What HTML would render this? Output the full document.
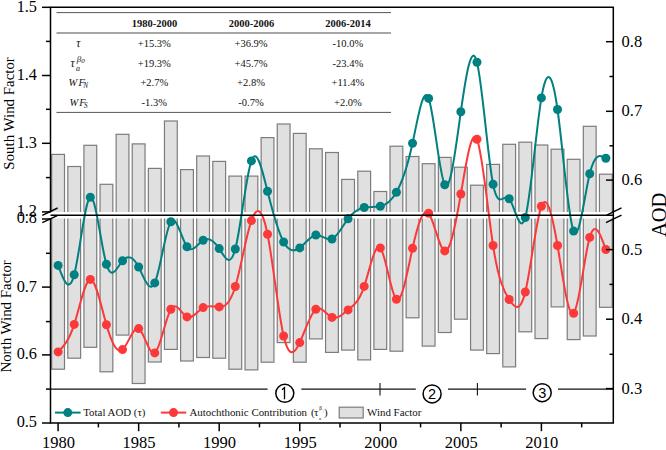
<!DOCTYPE html><html><head><meta charset="utf-8"><style>html,body{margin:0;padding:0;background:#fff;}svg{display:block;font-family:"Liberation Serif",serif;}</style></head><body><svg width="666" height="450" viewBox="0 0 666 450"><rect width="666" height="450" fill="#fff"/><defs><clipPath id="cu"><rect x="51" y="7" width="562" height="205"/></clipPath><clipPath id="cl"><rect x="51" y="218.6" width="562" height="204"/></clipPath></defs><g clip-path="url(#cu)" fill="#e0e0e0" stroke="#7c7c7c" stroke-width="1.2"><rect x="51.70" y="154.40" width="12.8" height="75.60"/><rect x="67.81" y="166.50" width="12.8" height="63.50"/><rect x="83.92" y="145.30" width="12.8" height="84.70"/><rect x="100.03" y="184.30" width="12.8" height="45.70"/><rect x="116.14" y="134.30" width="12.8" height="95.70"/><rect x="132.25" y="143.90" width="12.8" height="86.10"/><rect x="148.36" y="168.40" width="12.8" height="61.60"/><rect x="164.47" y="121.00" width="12.8" height="109.00"/><rect x="180.58" y="169.60" width="12.8" height="60.40"/><rect x="196.69" y="156.00" width="12.8" height="74.00"/><rect x="212.80" y="161.40" width="12.8" height="68.60"/><rect x="228.91" y="176.10" width="12.8" height="53.90"/><rect x="245.02" y="176.10" width="12.8" height="53.90"/><rect x="261.13" y="137.60" width="12.8" height="92.40"/><rect x="277.24" y="124.00" width="12.8" height="106.00"/><rect x="293.35" y="133.40" width="12.8" height="96.60"/><rect x="309.46" y="148.80" width="12.8" height="81.20"/><rect x="325.57" y="152.50" width="12.8" height="77.50"/><rect x="341.68" y="179.40" width="12.8" height="50.60"/><rect x="357.79" y="171.20" width="12.8" height="58.80"/><rect x="373.90" y="191.50" width="12.8" height="38.50"/><rect x="390.01" y="146.20" width="12.8" height="83.80"/><rect x="406.12" y="156.50" width="12.8" height="73.50"/><rect x="422.23" y="163.70" width="12.8" height="66.30"/><rect x="438.34" y="157.40" width="12.8" height="72.60"/><rect x="454.45" y="167.20" width="12.8" height="62.80"/><rect x="470.56" y="185.20" width="12.8" height="44.80"/><rect x="486.67" y="164.40" width="12.8" height="65.60"/><rect x="502.78" y="144.30" width="12.8" height="85.70"/><rect x="518.89" y="142.20" width="12.8" height="87.80"/><rect x="535.00" y="145.00" width="12.8" height="85.00"/><rect x="551.11" y="149.20" width="12.8" height="80.80"/><rect x="567.22" y="159.30" width="12.8" height="70.70"/><rect x="583.33" y="126.30" width="12.8" height="103.70"/><rect x="599.44" y="174.20" width="12.8" height="55.80"/></g><g clip-path="url(#cl)" fill="#e0e0e0" stroke="#7c7c7c" stroke-width="1.2"><rect x="51.70" y="200" width="12.8" height="169.20"/><rect x="67.81" y="200" width="12.8" height="158.20"/><rect x="83.92" y="200" width="12.8" height="147.30"/><rect x="100.03" y="200" width="12.8" height="171.80"/><rect x="116.14" y="200" width="12.8" height="135.10"/><rect x="132.25" y="200" width="12.8" height="183.50"/><rect x="148.36" y="200" width="12.8" height="162.00"/><rect x="164.47" y="200" width="12.8" height="149.40"/><rect x="180.58" y="200" width="12.8" height="161.00"/><rect x="196.69" y="200" width="12.8" height="157.50"/><rect x="212.80" y="200" width="12.8" height="158.20"/><rect x="228.91" y="200" width="12.8" height="169.20"/><rect x="245.02" y="200" width="12.8" height="169.90"/><rect x="261.13" y="200" width="12.8" height="162.20"/><rect x="277.24" y="200" width="12.8" height="142.60"/><rect x="293.35" y="200" width="12.8" height="162.20"/><rect x="309.46" y="200" width="12.8" height="138.90"/><rect x="325.57" y="200" width="12.8" height="152.40"/><rect x="341.68" y="200" width="12.8" height="150.10"/><rect x="357.79" y="200" width="12.8" height="159.90"/><rect x="373.90" y="200" width="12.8" height="149.40"/><rect x="390.01" y="200" width="12.8" height="151.20"/><rect x="406.12" y="200" width="12.8" height="117.80"/><rect x="422.23" y="200" width="12.8" height="146.10"/><rect x="438.34" y="200" width="12.8" height="132.50"/><rect x="454.45" y="200" width="12.8" height="119.20"/><rect x="470.56" y="200" width="12.8" height="150.10"/><rect x="486.67" y="200" width="12.8" height="153.60"/><rect x="502.78" y="200" width="12.8" height="166.90"/><rect x="518.89" y="200" width="12.8" height="131.80"/><rect x="535.00" y="200" width="12.8" height="138.60"/><rect x="551.11" y="200" width="12.8" height="106.90"/><rect x="567.22" y="200" width="12.8" height="139.60"/><rect x="583.33" y="200" width="12.8" height="136.00"/><rect x="599.44" y="200" width="12.8" height="107.30"/></g><line x1="56.5" y1="12.6" x2="391" y2="12.6" stroke="#555" stroke-width="1"/><line x1="56.5" y1="33" x2="391" y2="33" stroke="#888" stroke-width="1.4"/><line x1="56.5" y1="112.4" x2="391" y2="112.4" stroke="#555" stroke-width="1"/><path d="M58.10,265.40C63.47,280.16 68.84,294.93 74.21,274.70C79.58,254.47 84.95,199.26 90.32,197.20C95.69,195.14 101.06,246.23 106.43,264.20C111.80,282.17 117.17,267.02 122.54,260.70C127.91,254.38 133.28,256.91 138.65,267.00C144.02,277.09 149.39,294.76 154.76,282.90C160.13,271.04 165.50,229.65 170.87,221.70C176.24,213.75 181.61,239.23 186.98,246.70C192.35,254.17 197.72,243.62 203.09,240.20C208.46,236.78 213.83,240.48 219.20,248.60C224.57,256.72 229.94,269.27 235.31,249.00C240.68,228.73 246.05,175.64 251.42,160.90C256.79,146.16 262.16,169.79 267.53,191.30C272.90,212.81 278.27,232.22 283.64,242.00C289.01,251.78 294.38,251.92 299.75,247.90C305.12,243.88 310.49,235.69 315.86,235.00C321.23,234.31 326.60,241.13 331.97,239.00C337.34,236.87 342.71,225.79 348.08,218.70C353.45,211.61 358.82,208.51 364.19,207.50C369.56,206.49 374.93,207.55 380.30,206.30C385.67,205.05 391.04,201.47 396.41,192.20C401.78,182.93 407.15,167.98 412.52,143.30C417.89,118.62 423.26,84.21 428.63,98.40C434.00,112.59 439.37,175.38 444.74,184.70C450.11,194.02 455.48,149.87 460.85,111.70C466.22,73.53 471.59,41.35 476.96,62.20C482.33,83.05 487.70,156.92 493.07,184.30C498.44,211.68 503.81,192.55 509.18,198.70C514.55,204.85 519.92,236.27 525.29,217.50C530.66,198.73 536.03,129.77 541.40,97.90C546.77,66.03 552.14,71.23 557.51,109.50C562.88,147.77 568.25,219.09 573.62,231.10C578.99,243.11 584.36,195.82 589.73,173.80C595.10,151.78 600.47,155.04 605.84,158.30" fill="none" stroke="#008080" stroke-width="2"/><path d="M58.10,351.90C63.47,346.48 68.84,341.06 74.21,324.40C79.58,307.74 84.95,279.83 90.32,279.40C95.69,278.97 101.06,306.04 106.43,324.80C111.80,343.56 117.17,354.03 122.54,349.60C127.91,345.17 133.28,325.83 138.65,328.60C144.02,331.37 149.39,356.24 154.76,352.90C160.13,349.56 165.50,318.01 170.87,309.20C176.24,300.39 181.61,314.31 186.98,316.90C192.35,319.49 197.72,310.73 203.09,307.60C208.46,304.47 213.83,306.96 219.20,306.90C224.57,306.84 229.94,304.23 235.31,286.50C240.68,268.77 246.05,235.94 251.42,220.60C256.79,205.26 262.16,207.42 267.53,234.30C272.90,261.18 278.27,312.77 283.64,336.00C289.01,359.23 294.38,354.11 299.75,342.60C305.12,331.09 310.49,313.19 315.86,309.20C321.23,305.21 326.60,315.15 331.97,317.40C337.34,319.65 342.71,314.23 348.08,309.90C353.45,305.57 358.82,302.33 364.19,286.40C369.56,270.47 374.93,241.86 380.30,247.90C385.67,253.94 391.04,294.65 396.41,299.30C401.78,303.95 407.15,272.55 412.52,248.30C417.89,224.05 423.26,206.93 428.63,213.30C434.00,219.67 439.37,249.51 444.74,250.90C450.11,252.29 455.48,225.23 460.85,194.00C466.22,162.77 471.59,127.36 476.96,139.30C482.33,151.24 487.70,210.52 493.07,245.50C498.44,280.48 503.81,291.15 509.18,299.50C514.55,307.85 519.92,313.88 525.29,292.00C530.66,270.12 536.03,220.35 541.40,206.30C546.77,192.25 552.14,213.93 557.51,245.50C562.88,277.07 568.25,318.51 573.62,313.20C578.99,307.89 584.36,255.81 589.73,237.40C595.10,218.99 600.47,234.24 605.84,249.50" fill="none" stroke="#fd3838" stroke-width="2"/><circle cx="58.10" cy="265.40" r="4.5" fill="#008080"/><circle cx="74.21" cy="274.70" r="4.5" fill="#008080"/><circle cx="90.32" cy="197.20" r="4.5" fill="#008080"/><circle cx="106.43" cy="264.20" r="4.5" fill="#008080"/><circle cx="122.54" cy="260.70" r="4.5" fill="#008080"/><circle cx="138.65" cy="267.00" r="4.5" fill="#008080"/><circle cx="154.76" cy="282.90" r="4.5" fill="#008080"/><circle cx="170.87" cy="221.70" r="4.5" fill="#008080"/><circle cx="186.98" cy="246.70" r="4.5" fill="#008080"/><circle cx="203.09" cy="240.20" r="4.5" fill="#008080"/><circle cx="219.20" cy="248.60" r="4.5" fill="#008080"/><circle cx="235.31" cy="249.00" r="4.5" fill="#008080"/><circle cx="251.42" cy="160.90" r="4.5" fill="#008080"/><circle cx="267.53" cy="191.30" r="4.5" fill="#008080"/><circle cx="283.64" cy="242.00" r="4.5" fill="#008080"/><circle cx="299.75" cy="247.90" r="4.5" fill="#008080"/><circle cx="315.86" cy="235.00" r="4.5" fill="#008080"/><circle cx="331.97" cy="239.00" r="4.5" fill="#008080"/><circle cx="348.08" cy="218.70" r="4.5" fill="#008080"/><circle cx="364.19" cy="207.50" r="4.5" fill="#008080"/><circle cx="380.30" cy="206.30" r="4.5" fill="#008080"/><circle cx="396.41" cy="192.20" r="4.5" fill="#008080"/><circle cx="412.52" cy="143.30" r="4.5" fill="#008080"/><circle cx="428.63" cy="98.40" r="4.5" fill="#008080"/><circle cx="444.74" cy="184.70" r="4.5" fill="#008080"/><circle cx="460.85" cy="111.70" r="4.5" fill="#008080"/><circle cx="476.96" cy="62.20" r="4.5" fill="#008080"/><circle cx="493.07" cy="184.30" r="4.5" fill="#008080"/><circle cx="509.18" cy="198.70" r="4.5" fill="#008080"/><circle cx="525.29" cy="217.50" r="4.5" fill="#008080"/><circle cx="541.40" cy="97.90" r="4.5" fill="#008080"/><circle cx="557.51" cy="109.50" r="4.5" fill="#008080"/><circle cx="573.62" cy="231.10" r="4.5" fill="#008080"/><circle cx="589.73" cy="173.80" r="4.5" fill="#008080"/><circle cx="605.84" cy="158.30" r="4.5" fill="#008080"/><circle cx="58.10" cy="351.90" r="4.5" fill="#fd3838"/><circle cx="74.21" cy="324.40" r="4.5" fill="#fd3838"/><circle cx="90.32" cy="279.40" r="4.5" fill="#fd3838"/><circle cx="106.43" cy="324.80" r="4.5" fill="#fd3838"/><circle cx="122.54" cy="349.60" r="4.5" fill="#fd3838"/><circle cx="138.65" cy="328.60" r="4.5" fill="#fd3838"/><circle cx="154.76" cy="352.90" r="4.5" fill="#fd3838"/><circle cx="170.87" cy="309.20" r="4.5" fill="#fd3838"/><circle cx="186.98" cy="316.90" r="4.5" fill="#fd3838"/><circle cx="203.09" cy="307.60" r="4.5" fill="#fd3838"/><circle cx="219.20" cy="306.90" r="4.5" fill="#fd3838"/><circle cx="235.31" cy="286.50" r="4.5" fill="#fd3838"/><circle cx="251.42" cy="220.60" r="4.5" fill="#fd3838"/><circle cx="267.53" cy="234.30" r="4.5" fill="#fd3838"/><circle cx="283.64" cy="336.00" r="4.5" fill="#fd3838"/><circle cx="299.75" cy="342.60" r="4.5" fill="#fd3838"/><circle cx="315.86" cy="309.20" r="4.5" fill="#fd3838"/><circle cx="331.97" cy="317.40" r="4.5" fill="#fd3838"/><circle cx="348.08" cy="309.90" r="4.5" fill="#fd3838"/><circle cx="364.19" cy="286.40" r="4.5" fill="#fd3838"/><circle cx="380.30" cy="247.90" r="4.5" fill="#fd3838"/><circle cx="396.41" cy="299.30" r="4.5" fill="#fd3838"/><circle cx="412.52" cy="248.30" r="4.5" fill="#fd3838"/><circle cx="428.63" cy="213.30" r="4.5" fill="#fd3838"/><circle cx="444.74" cy="250.90" r="4.5" fill="#fd3838"/><circle cx="460.85" cy="194.00" r="4.5" fill="#fd3838"/><circle cx="476.96" cy="139.30" r="4.5" fill="#fd3838"/><circle cx="493.07" cy="245.50" r="4.5" fill="#fd3838"/><circle cx="509.18" cy="299.50" r="4.5" fill="#fd3838"/><circle cx="525.29" cy="292.00" r="4.5" fill="#fd3838"/><circle cx="541.40" cy="206.30" r="4.5" fill="#fd3838"/><circle cx="557.51" cy="245.50" r="4.5" fill="#fd3838"/><circle cx="573.62" cy="313.20" r="4.5" fill="#fd3838"/><circle cx="589.73" cy="237.40" r="4.5" fill="#fd3838"/><circle cx="605.84" cy="249.50" r="4.5" fill="#fd3838"/><line x1="50.5" y1="215.2" x2="613" y2="215.2" stroke="#000" stroke-width="1.4"/><line x1="50.5" y1="389.1" x2="267.6" y2="389.1" stroke="#111" stroke-width="1.1"/><line x1="301.3" y1="389.1" x2="415.8" y2="389.1" stroke="#111" stroke-width="1.1"/><line x1="448" y1="389.1" x2="526.1" y2="389.1" stroke="#111" stroke-width="1.1"/><line x1="558" y1="389.1" x2="613" y2="389.1" stroke="#111" stroke-width="1.1"/><line x1="380.0" y1="383" x2="380.0" y2="395.5" stroke="#111" stroke-width="1.1"/><line x1="477.4" y1="383" x2="477.4" y2="395.5" stroke="#111" stroke-width="1.1"/><circle cx="284.8" cy="393.3" r="9.0" fill="none" stroke="#000" stroke-width="1.5"/><path d="M282.00,389.80 L284.50,387.70 V399.30" fill="none" stroke="#000" stroke-width="1.3"/><circle cx="432.1" cy="393.9" r="9.0" fill="none" stroke="#000" stroke-width="1.5"/><text x="432.1" y="399.09999999999997" font-family="Liberation Sans" font-size="14.5" text-anchor="middle" fill="#000">2</text><circle cx="542.2" cy="392.7" r="9.0" fill="none" stroke="#000" stroke-width="1.5"/><text x="542.2" y="397.9" font-family="Liberation Sans" font-size="14.5" text-anchor="middle" fill="#000">3</text><path d="M50.5,211.6 V7.3 H613.3 V423 H50.5 V218.9" fill="none" stroke="#000" stroke-width="1.5" stroke-linejoin="miter" stroke-linecap="square"/><line x1="42" y1="7.3" x2="50.5" y2="7.3" stroke="#000" stroke-width="1.5"/><line x1="42" y1="75.5" x2="50.5" y2="75.5" stroke="#000" stroke-width="1.5"/><line x1="42" y1="143.3" x2="50.5" y2="143.3" stroke="#000" stroke-width="1.5"/><line x1="42" y1="211.9" x2="50.5" y2="211.9" stroke="#000" stroke-width="1.5"/><line x1="42" y1="219" x2="50.5" y2="219" stroke="#000" stroke-width="1.5"/><line x1="42" y1="287.1" x2="50.5" y2="287.1" stroke="#000" stroke-width="1.5"/><line x1="42" y1="354.9" x2="50.5" y2="354.9" stroke="#000" stroke-width="1.5"/><line x1="42" y1="423" x2="50.5" y2="423" stroke="#000" stroke-width="1.5"/><line x1="46" y1="41.4" x2="50.5" y2="41.4" stroke="#000" stroke-width="1.5"/><line x1="46" y1="109.3" x2="50.5" y2="109.3" stroke="#000" stroke-width="1.5"/><line x1="46" y1="177.6" x2="50.5" y2="177.6" stroke="#000" stroke-width="1.5"/><line x1="46" y1="253.3" x2="50.5" y2="253.3" stroke="#000" stroke-width="1.5"/><line x1="46" y1="321.6" x2="50.5" y2="321.6" stroke="#000" stroke-width="1.5"/><line x1="46" y1="389.1" x2="50.5" y2="389.1" stroke="#000" stroke-width="1.5"/><line x1="606" y1="41.7" x2="613.3" y2="41.7" stroke="#000" stroke-width="1.5"/><line x1="606" y1="111.3" x2="613.3" y2="111.3" stroke="#000" stroke-width="1.5"/><line x1="606" y1="180.1" x2="613.3" y2="180.1" stroke="#000" stroke-width="1.5"/><line x1="606" y1="249.6" x2="613.3" y2="249.6" stroke="#000" stroke-width="1.5"/><line x1="606" y1="319.2" x2="613.3" y2="319.2" stroke="#000" stroke-width="1.5"/><line x1="606" y1="388.6" x2="613.3" y2="388.6" stroke="#000" stroke-width="1.5"/><line x1="609.5" y1="76.5" x2="613.3" y2="76.5" stroke="#000" stroke-width="1.5"/><line x1="609.5" y1="145.8" x2="613.3" y2="145.8" stroke="#000" stroke-width="1.5"/><line x1="609.5" y1="284.4" x2="613.3" y2="284.4" stroke="#000" stroke-width="1.5"/><line x1="609.5" y1="354.3" x2="613.3" y2="354.3" stroke="#000" stroke-width="1.5"/><line x1="58.10" y1="423" x2="58.10" y2="431.2" stroke="#000" stroke-width="1.5"/><line x1="138.65" y1="423" x2="138.65" y2="431.2" stroke="#000" stroke-width="1.5"/><line x1="219.20" y1="423" x2="219.20" y2="431.2" stroke="#000" stroke-width="1.5"/><line x1="299.75" y1="423" x2="299.75" y2="431.2" stroke="#000" stroke-width="1.5"/><line x1="380.30" y1="423" x2="380.30" y2="431.2" stroke="#000" stroke-width="1.5"/><line x1="460.85" y1="423" x2="460.85" y2="431.2" stroke="#000" stroke-width="1.5"/><line x1="541.40" y1="423" x2="541.40" y2="431.2" stroke="#000" stroke-width="1.5"/><line x1="98.38" y1="423" x2="98.38" y2="427.4" stroke="#000" stroke-width="1.5"/><line x1="178.92" y1="423" x2="178.92" y2="427.4" stroke="#000" stroke-width="1.5"/><line x1="259.48" y1="423" x2="259.48" y2="427.4" stroke="#000" stroke-width="1.5"/><line x1="340.03" y1="423" x2="340.03" y2="427.4" stroke="#000" stroke-width="1.5"/><line x1="420.57" y1="423" x2="420.57" y2="427.4" stroke="#000" stroke-width="1.5"/><line x1="501.12" y1="423" x2="501.12" y2="427.4" stroke="#000" stroke-width="1.5"/><line x1="581.67" y1="423" x2="581.67" y2="427.4" stroke="#000" stroke-width="1.5"/><g stroke="#000" stroke-width="1.4"><line x1="42.3" y1="215.3" x2="57.7" y2="208"/><line x1="42.3" y1="222.7" x2="57.3" y2="215.7"/><line x1="606.7" y1="215.2" x2="621.5" y2="207.8"/><line x1="606" y1="222.7" x2="621.5" y2="215.2"/></g><text x="37" y="11.7" font-family="Liberation Serif" font-size="16.3" text-anchor="end" fill="#000">1.5</text><text x="37" y="79.9" font-family="Liberation Serif" font-size="16.3" text-anchor="end" fill="#000">1.4</text><text x="37" y="147.7" font-family="Liberation Serif" font-size="16.3" text-anchor="end" fill="#000">1.3</text><text x="37" y="216.3" font-family="Liberation Serif" font-size="16.3" text-anchor="end" fill="#000">1.2</text><text x="37" y="223.4" font-family="Liberation Serif" font-size="16.3" text-anchor="end" fill="#000">0.8</text><text x="37" y="291.5" font-family="Liberation Serif" font-size="16.3" text-anchor="end" fill="#000">0.7</text><text x="37" y="359.3" font-family="Liberation Serif" font-size="16.3" text-anchor="end" fill="#000">0.6</text><text x="37" y="427.4" font-family="Liberation Serif" font-size="16.3" text-anchor="end" fill="#000">0.5</text><text x="621.5" y="46.6" font-family="Liberation Serif" font-size="16.5" fill="#000">0.8</text><text x="621.5" y="116.2" font-family="Liberation Serif" font-size="16.5" fill="#000">0.7</text><text x="621.5" y="185.0" font-family="Liberation Serif" font-size="16.5" fill="#000">0.6</text><text x="621.5" y="254.5" font-family="Liberation Serif" font-size="16.5" fill="#000">0.5</text><text x="621.5" y="324.1" font-family="Liberation Serif" font-size="16.5" fill="#000">0.4</text><text x="621.5" y="393.5" font-family="Liberation Serif" font-size="16.5" fill="#000">0.3</text><text x="58.50" y="448" font-family="Liberation Serif" font-size="16.5" text-anchor="middle" fill="#000">1980</text><text x="139.05" y="448" font-family="Liberation Serif" font-size="16.5" text-anchor="middle" fill="#000">1985</text><text x="219.60" y="448" font-family="Liberation Serif" font-size="16.5" text-anchor="middle" fill="#000">1990</text><text x="300.15" y="448" font-family="Liberation Serif" font-size="16.5" text-anchor="middle" fill="#000">1995</text><text x="380.70" y="448" font-family="Liberation Serif" font-size="16.5" text-anchor="middle" fill="#000">2000</text><text x="461.25" y="448" font-family="Liberation Serif" font-size="16.5" text-anchor="middle" fill="#000">2005</text><text x="541.80" y="448" font-family="Liberation Serif" font-size="16.5" text-anchor="middle" fill="#000">2010</text><text transform="translate(13.6,113.4) rotate(-90)" font-family="Liberation Serif" font-size="14.9" text-anchor="middle" fill="#000">South Wind Factor</text><text transform="translate(10.7,316.4) rotate(-90)" font-family="Liberation Serif" font-size="14.9" text-anchor="middle" fill="#000">North Wind Factor</text><text transform="translate(665.5,214.9) rotate(-90)" font-family="Liberation Serif" font-size="20.5" text-anchor="middle" fill="#000">AOD</text><text x="154.6" y="26.6" font-family="Liberation Serif" font-size="10.5" fill="#111" font-weight="bold" text-anchor="middle">1980-2000</text><text x="251.5" y="26.6" font-family="Liberation Serif" font-size="10.5" fill="#111" font-weight="bold" text-anchor="middle">2000-2006</text><text x="348" y="26.6" font-family="Liberation Serif" font-size="10.5" fill="#111" font-weight="bold" text-anchor="middle">2006-2014</text><text x="154.3" y="47.3" font-family="Liberation Serif" font-size="10.5" fill="#111" text-anchor="middle">+15.3%</text><text x="251" y="47.3" font-family="Liberation Serif" font-size="10.5" fill="#111" text-anchor="middle">+36.9%</text><text x="347.9" y="47.3" font-family="Liberation Serif" font-size="10.5" fill="#111" text-anchor="middle">-10.0%</text><text x="154.3" y="66.8" font-family="Liberation Serif" font-size="10.5" fill="#111" text-anchor="middle">+19.3%</text><text x="251" y="66.8" font-family="Liberation Serif" font-size="10.5" fill="#111" text-anchor="middle">+45.7%</text><text x="347.9" y="66.8" font-family="Liberation Serif" font-size="10.5" fill="#111" text-anchor="middle">-23.4%</text><text x="154.3" y="86.1" font-family="Liberation Serif" font-size="10.5" fill="#111" text-anchor="middle">+2.7%</text><text x="251" y="86.1" font-family="Liberation Serif" font-size="10.5" fill="#111" text-anchor="middle">+2.8%</text><text x="347.9" y="86.1" font-family="Liberation Serif" font-size="10.5" fill="#111" text-anchor="middle">+11.4%</text><text x="154.3" y="105.9" font-family="Liberation Serif" font-size="10.5" fill="#111" text-anchor="middle">-1.3%</text><text x="251" y="105.9" font-family="Liberation Serif" font-size="10.5" fill="#111" text-anchor="middle">-0.7%</text><text x="347.9" y="105.9" font-family="Liberation Serif" font-size="10.5" fill="#111" text-anchor="middle">+2.0%</text><text x="76.3" y="47.3" font-family="Liberation Serif" font-style="italic" fill="#111" font-size="11.5">τ</text><text x="70.5" y="67.3" font-family="Liberation Serif" font-style="italic" fill="#111" font-size="11.5">τ</text><text x="76" y="70.5" font-family="Liberation Serif" font-style="italic" fill="#111" font-size="8">a</text><text x="76.7" y="62.3" font-family="Liberation Serif" font-style="italic" fill="#111" font-size="9">β</text><text x="81.2" y="63.3" font-family="Liberation Serif" font-style="italic" fill="#111" font-size="7">0</text><text x="68.5" y="85.8" font-family="Liberation Serif" font-style="italic" fill="#111" font-size="10.5">W</text><text x="78.4" y="85.8" font-family="Liberation Serif" font-style="italic" fill="#111" font-size="10.5">F</text><text x="83.3" y="88.4" font-family="Liberation Serif" font-style="italic" fill="#111" font-size="7.2">N</text><text x="69.4" y="105.6" font-family="Liberation Serif" font-style="italic" fill="#111" font-size="10.5">W</text><text x="79.2" y="105.6" font-family="Liberation Serif" font-style="italic" fill="#111" font-size="10.5">F</text><text x="84.0" y="107.7" font-family="Liberation Serif" font-style="italic" fill="#111" font-size="7.2">S</text><line x1="55" y1="412.6" x2="80.6" y2="412.6" stroke="#008080" stroke-width="2"/><circle cx="67.8" cy="412.6" r="4.5" fill="#008080"/><line x1="160.8" y1="412.6" x2="186.3" y2="412.6" stroke="#fd3838" stroke-width="2"/><circle cx="173.5" cy="412.6" r="4.5" fill="#fd3838"/><text x="83.2" y="416.1" font-family="Liberation Serif" font-size="10.9" fill="#111">Total AOD (τ)</text><text x="189.4" y="416.1" font-family="Liberation Serif" font-size="10.9" fill="#111">Autochthonic Contribution</text><text x="310.9" y="416.1" font-family="Liberation Serif" font-size="10.9" fill="#111">(</text><text x="314.0" y="416.1" font-family="Liberation Serif" font-size="10.9" fill="#111">τ</text><text x="318.9" y="420.0" font-family="Liberation Serif" font-size="4.8" fill="#111">a</text><text x="319.2" y="409.6" font-family="Liberation Serif" font-size="5.3" fill="#111">β</text><text x="322.4" y="412.9" font-family="Liberation Serif" font-size="3" fill="#aaa">0</text><text x="324.0" y="416.1" font-family="Liberation Serif" font-size="10.9" fill="#111">)</text><rect x="339.2" y="407.2" width="24" height="10.8" fill="#e0e0e0" stroke="#7c7c7c" stroke-width="1.2"/><text x="367.1" y="416.4" font-family="Liberation Serif" font-size="10.9" fill="#111">Wind Factor</text></svg></body></html>
